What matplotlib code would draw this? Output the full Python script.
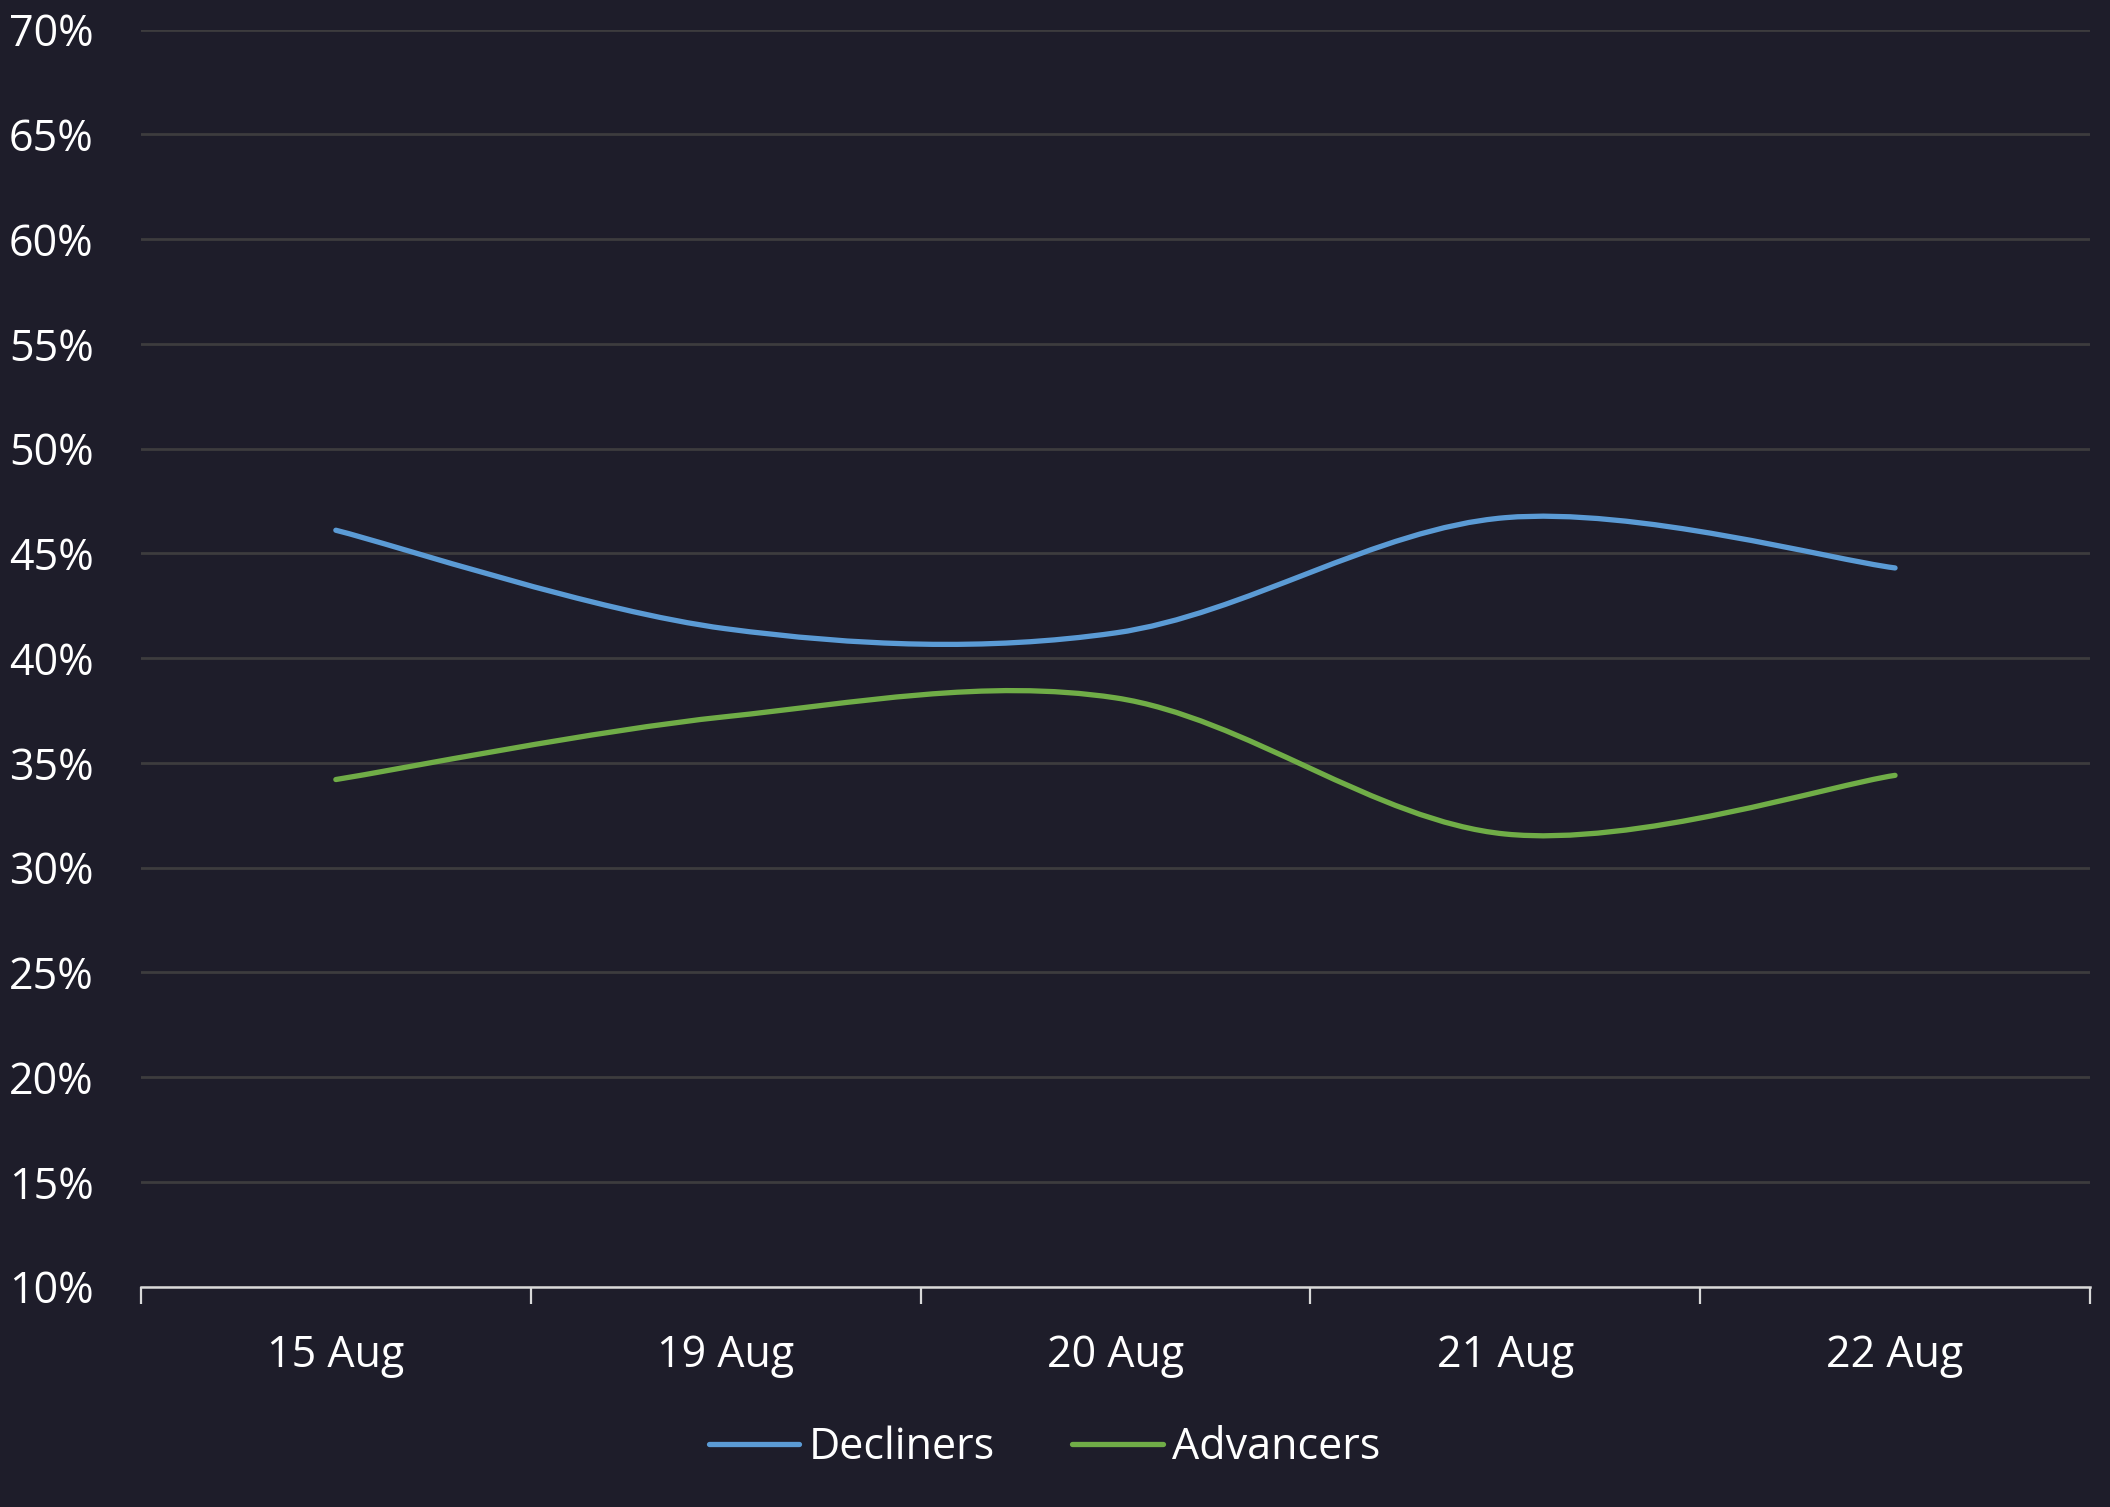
import numpy as np
import matplotlib
matplotlib.use('Agg')
import matplotlib.pyplot as plt
from matplotlib.path import Path
from matplotlib.patches import PathPatch
from matplotlib.lines import Line2D

# data (percent)
dates = ['15 Aug', '19 Aug', '20 Aug', '21 Aug', '22 Aug']
decliners = [46.1, 41.4, 41.2, 46.7, 44.3]
advancers = [34.2, 37.2, 38.1, 31.6, 34.4]

BG = '#1e1d2a'
GRID = '#3d3c3e'
AXIS = '#d9d9d9'
BLUE = '#5b9bd5'
GREEN = '#70ad47'

plt.rcParams['font.family'] = ['Open Sans', 'DejaVu Sans']


def smooth_path(xs, ys):
    # excel style smoothed line: cubic bezier through each point
    pts = np.column_stack([xs, ys]).astype(float)
    n = len(pts)
    verts = [pts[0]]
    codes = [Path.MOVETO]
    for i in range(n - 1):
        p0 = pts[max(i - 1, 0)]
        p1 = pts[i]
        p2 = pts[i + 1]
        p3 = pts[min(i + 2, n - 1)]
        c1 = p1 + (p2 - p0) / 6.0
        c2 = p2 - (p3 - p1) / 6.0
        verts += [c1, c2, p2]
        codes += [Path.CURVE4] * 3
    return Path(verts, codes)


fig = plt.figure(figsize=(21.1, 15.07), dpi=100, facecolor=BG)
ax = fig.add_axes([0.0668, 0.1463, 0.9237, 0.8341])
ax.set_facecolor(BG)

x = np.arange(len(dates))
for vals, col in [(decliners, BLUE), (advancers, GREEN)]:
    patch = PathPatch(smooth_path(x, vals), facecolor='none', edgecolor=col,
                      lw=3.8, capstyle='round', zorder=3)
    ax.add_patch(patch)

ax.set_xlim(-0.5, len(dates) - 0.5)
ax.set_ylim(10, 70)

ax.set_yticks(np.arange(10, 71, 5))
ax.set_yticklabels([f'{v}%' for v in range(10, 71, 5)])
ax.grid(axis='y', color=GRID, lw=2.0, zorder=0)
ax.set_axisbelow(True)

ax.set_xticks(np.arange(-0.5, len(dates), 1.0))
ax.set_xticklabels([])
ax.set_xticks(x, minor=True)
ax.set_xticklabels(dates, minor=True)

ax.tick_params(axis='y', length=0, pad=34, labelsize=31, labelcolor='white')
ax.tick_params(axis='x', which='major', length=12, width=1.6, color=AXIS)
ax.tick_params(axis='x', which='minor', length=0, pad=34, labelsize=31,
               labelcolor='white')

for s in ['top', 'right', 'left']:
    ax.spines[s].set_visible(False)
ax.spines['bottom'].set_color(AXIS)
ax.spines['bottom'].set_linewidth(1.8)
ax.spines['bottom'].set_zorder(4)

handles = [Line2D([], [], color=BLUE, lw=3.8, solid_capstyle='round'),
           Line2D([], [], color=GREEN, lw=3.8, solid_capstyle='round')]
leg = fig.legend(handles, ['Decliners', 'Advancers'], loc='center',
                 bbox_to_anchor=(0.495, 0.0395), ncol=2, frameon=False,
                 fontsize=31, handlelength=2.1, handletextpad=0.22,
                 columnspacing=1.8)
for t in leg.get_texts():
    t.set_color('white')

fig.savefig('out.png', dpi=100, facecolor=BG)
